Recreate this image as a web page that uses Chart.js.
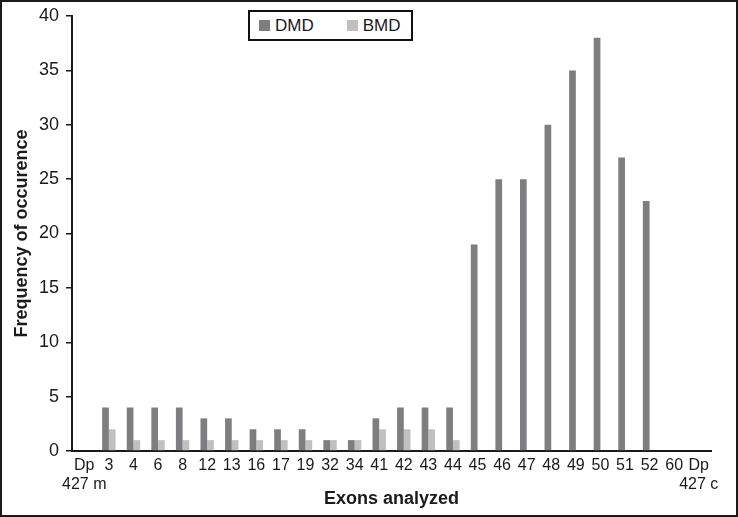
<!DOCTYPE html>
<html>
<head>
<meta charset="utf-8">
<script src="https://cdn.jsdelivr.net/npm/chart.js@4/dist/chart.umd.min.js"></script>
<style>
  html, body { margin: 0; padding: 0; background: #fff; }
  #wrap {
    position: relative; width: 738px; height: 517px;
    box-sizing: border-box; border: 2px solid #1a1a1a; background: #fff;
  }
  #chart { position: absolute; left: 0; top: 0; }
  #legend {
    position: absolute; left: 246px; top: 8px; width: 165px; height: 31px;
    box-sizing: border-box; border: 2px solid #111; background: #fff;
    font: 17px "Liberation Sans", Arial, sans-serif; color: #1a1a1a;
    display: flex; align-items: center; padding-left: 9px;
  }
  #legend .item { display: flex; align-items: center; margin-right: 33px; }
  #legend .sw { width: 11px; height: 11px; margin-right: 5px; }
</style>
</head>
<body>
<div id="wrap">
  <canvas id="chart" width="734" height="513"></canvas>
  <div id="legend"></div>
</div>
<script>
'use strict'

// categories (exons), two-line labels where needed
const exons = [['Dp', '427 m'], '3', '4', '6', '8', '12', '13', '16', '17', '19', '32', '34',
  '41', '42', '43', '44', '45', '46', '47', '48', '49', '50', '51', '52', '60', ['Dp', '427 c']];

// frequency of occurence
const dmdValues = [0, 4, 4, 4, 4, 3, 3, 2, 2, 2, 1, 1, 3, 4, 4, 4, 19, 25, 25, 30, 35, 38, 27, 23, 0, 0];
const bmdValues = [0, 2, 1, 1, 1, 1, 1, 1, 1, 1, 1, 1, 2, 2, 2, 1, 0, 0, 0, 0, 0, 0, 0, 0, 0, 0];

const yTicks = [0, 5, 10, 15, 20, 25, 30, 35, 40];

const dmdColor = '#7e7e81';
const bmdColor = '#c0c0c0';
const ink = '#1a1a1a';
const fontFamily = '"Liberation Sans", Arial, sans-serif';

Chart.defaults.font.family = fontFamily;
Chart.defaults.color = ink;

const chart = new Chart(document.getElementById('chart'), {
  type: 'bar',
  data: {
    labels: exons,
    datasets: [
      { label: 'DMD', data: dmdValues, backgroundColor: dmdColor },
      { label: 'BMD', data: bmdValues, backgroundColor: bmdColor }
    ]
  },
  options: {
    responsive: false,
    animation: false,
    maintainAspectRatio: false,
    categoryPercentage: 0.545,
    barPercentage: 1,
    layout: { padding: { left: 0, top: 14, right: 25, bottom: 0 } },
    plugins: {
      legend: { display: false },
      tooltip: { enabled: false }
    },
    scales: {
      x: {
        grid: { display: false, drawTicks: false },
        border: { display: true, color: ink, width: 2 },
        ticks: {
          autoSkip: false, maxRotation: 0, minRotation: 0, padding: 5,
          font: { size: 16, lineHeight: 1.2 }, color: ink
        },
        title: {
          display: true, text: 'Exons analyzed', color: ink,
          font: { size: 18, weight: 'bold' },
          padding: { top: 0, bottom: 5 }
        },
        afterFit: (scale) => { scale.height = 64; }
      },
      y: {
        min: 0, max: 40,
        afterBuildTicks: (scale) => { scale.ticks = yTicks.map(v => ({ value: v })); },
        grid: { drawOnChartArea: false, tickLength: 6, color: ink, lineWidth: 1.5 },
        border: { display: true, color: ink, width: 2 },
        ticks: { padding: 7, font: { size: 18 }, color: ink },
        title: {
          display: true, text: 'Frequency of occurence', color: ink,
          font: { size: 18, weight: 'bold' },
          padding: { top: 9, bottom: 0 }
        },
        afterFit: (scale) => {
          scale.width = 70;
          // the top label may overflow into the layout padding
          scale.paddingTop = 0;
          scale.paddingBottom = 0;
        }
      }
    }
  }
});

// html legend built from the datasets
const legendEl = document.getElementById('legend');
chart.data.datasets.forEach(ds => {
  const item = document.createElement('span');
  item.className = 'item';
  const sw = document.createElement('span');
  sw.className = 'sw';
  sw.style.background = ds.backgroundColor;
  item.appendChild(sw);
  item.appendChild(document.createTextNode(ds.label));
  legendEl.appendChild(item);
});
</script>
</body>
</html>
